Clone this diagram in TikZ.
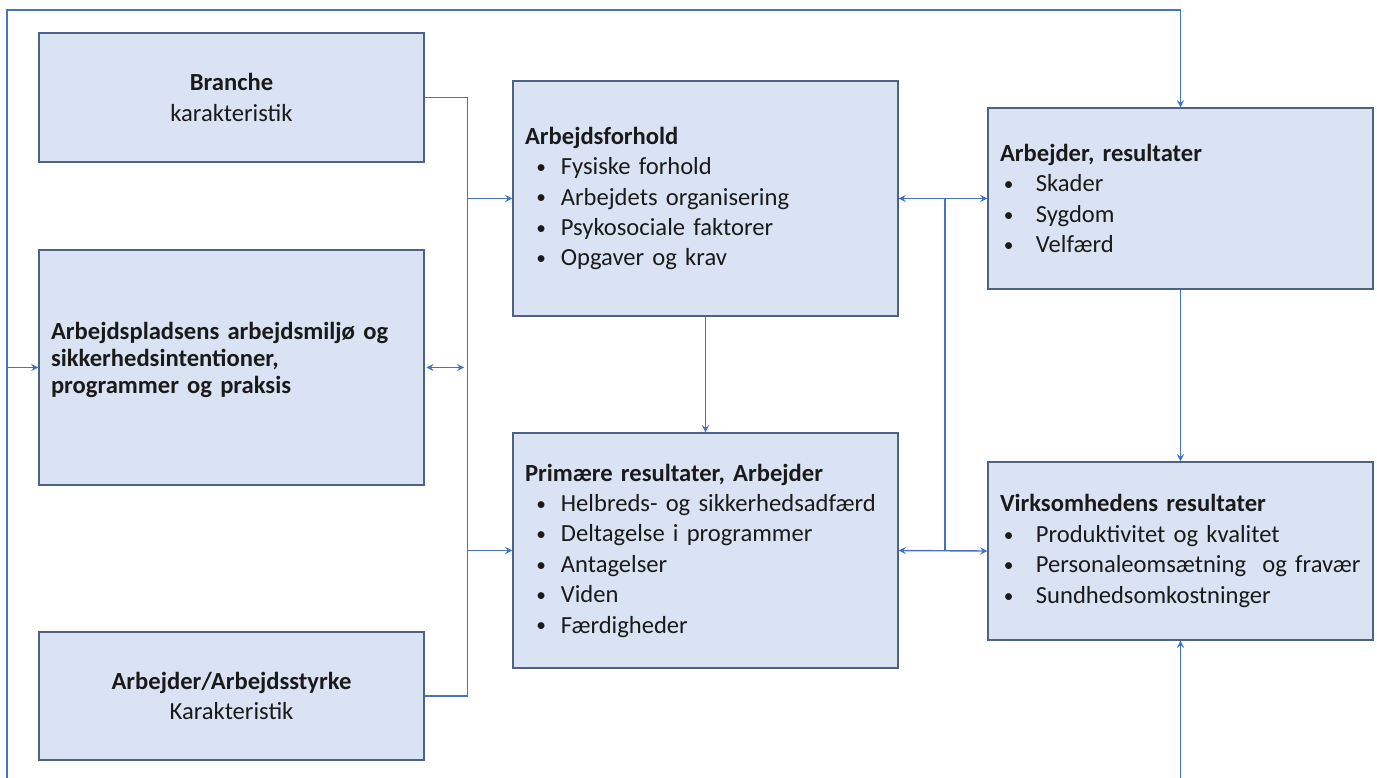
\documentclass[tikz,border=0pt]{standalone}
\usepackage{fontspec}
\setmainfont{Carlito}
\usepackage{tikz}
\usetikzlibrary{positioning}

\definecolor{boxfill}{HTML}{DAE3F3}
\definecolor{boxline}{HTML}{4E6283}
\definecolor{linkblue}{HTML}{4472C4}
\definecolor{inktext}{HTML}{1A1A1A}

\newcommand{\blt}[2][6.5pt]{\hspace*{#1}\makebox[\dimexpr20.4pt-#1\relax][l]{\raisebox{0.6pt}{\fontsize{11}{11}\selectfont\textbullet}}#2}

\begin{document}
\begin{tikzpicture}[x=0.02cm,y=-0.02cm,font=\fontsize{14}{17.3}\selectfont,text=inktext]
	\tikzset{box/.style={draw=boxline, fill=boxfill, line width=0.8pt,
			minimum width=7.7cm, text width=7.22cm, inner xsep=0.24cm, align=left},
		conn/.style={draw=linkblue, line width=0.8pt},
		arr/.style={conn, -stealth},
		darr/.style={conn, stealth-stealth}}
	\useasboundingbox (0,0) rectangle (1377,778);
	% left column
	\node[box, align=center, minimum height=2.58cm] (branche) at (231.5,97.5)
		{\textbf{Branche}\\karakteristik};
	\node[box, minimum height=4.7cm, font=\fontsize{14}{15.3}\selectfont] (plads) at (231.5,367.5)
		{\textbf{Arbejdspladsens arbejdsmiljø og}\\\textbf{sikkerhedsintentioner,}\\\textbf{programmer og praksis}\\[-4pt]\mbox{}};
	\node[box, align=center, minimum height=2.56cm] (styrke) at (231.5,696)
		{\textbf{Arbejder/Arbejdsstyrke}\\Karakteristik};
	% middle column
	\node[box, minimum height=4.7cm] (forhold) at (705.5,198.5)
		{\textbf{Arbejdsforhold}\\\blt{Fysiske forhold}\\\blt{Arbejdets organisering}\\\blt{Psykosociale faktorer}\\\blt{Opgaver og krav}};
	\node[box, minimum height=4.7cm] (primaer) at (705.5,550.5)
		{\textbf{Primære resultater, Arbejder}\\\blt{Helbreds- og sikkerhedsadfærd}\\\blt{Deltagelse i programmer}\\\blt{Antagelser}\\\blt{Viden}\\\blt{Færdigheder}};
	% right column
	\node[box, minimum height=3.62cm] (arbres) at (1180.5,198.5)
		{\textbf{Arbejder, resultater}\\\blt[2.2pt]{Skader}\\\blt[2.2pt]{Sygdom}\\\blt[2.2pt]{Velfærd}};
	\node[box, minimum height=3.56cm] (virk) at (1180.5,551)
		{\textbf{Virksomhedens resultater}\\\blt[2.2pt]{Produktivitet og kvalitet}\\\blt[2.2pt]{Personaleomsætning\ \ og fravær}\\\blt[2.2pt]{Sundhedsomkostninger}};

	% left bus
	\draw[conn] (branche.east) -- ++(43,0) coordinate (lbus) -- (lbus |- styrke.east) -- (styrke.east);
	\draw[arr] (lbus |- forhold.west) -- (forhold.west);
	\draw[arr] (lbus |- primaer.west) -- (primaer.west);
	\draw[darr, shorten >=2pt, shorten <=1pt] (plads.east) -- (plads.east -| lbus);
	\draw[arr] (forhold.south) -- (primaer.north);
	% right bus
	\coordinate (rbus) at (945,0);
	\draw[conn] (rbus |- forhold.east) -- (rbus |- primaer.east);
	\draw[darr] (forhold.east) -- (arbres.west);
	\draw[darr] (primaer.east) -- (virk.west);
	\draw[arr] (arbres.south) -- (virk.north);
	% feedback loop
	\coordinate (loopL) at (7,778);
	\coordinate (loopT) at (7,10);
	\coordinate (loopR) at (virk.south |- loopL);
	\draw[arr] (loopL) -- (loopT) -| (arbres.north);
	\draw[arr] (loopT |- plads.west) -- (plads.west);
	\draw[arr] (loopR) -- (virk.south);
\end{tikzpicture}
\end{document}
